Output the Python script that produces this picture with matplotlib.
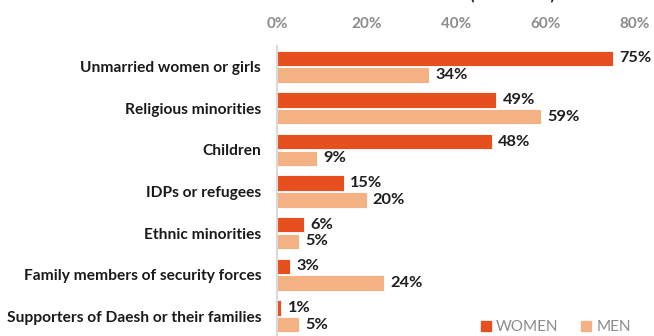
import matplotlib
matplotlib.use("Agg")
import matplotlib.pyplot as plt
import numpy as np
from matplotlib.patches import Rectangle

categories = ["Unmarried women or girls", "Religious minorities", "Children",
              "IDPs or refugees", "Ethnic minorities",
              "Family members of security forces",
              "Supporters of Daesh or their families"]
women = [75, 49, 48, 15, 6, 3, 1]
men = [34, 59, 9, 20, 5, 24, 5]
xticks = [0, 20, 40, 60, 80]
xtick_labels = ["0%", "20%", "40%", "60%", "80%"]

C_W = "#E5501E"
C_M = "#F4B183"
FONT = "Lato"

W, H = 654, 336
fig = plt.figure(figsize=(W/100, H/100), dpi=100)
ax = fig.add_axes([277/W, 1 - 337/H, 358/W, 291/H])

y = np.arange(len(categories))
bh = 0.37
off = 0.2
ax.barh(y - off, women, height=bh, color=C_W, edgecolor="white", linewidth=0.6, label="WOMEN")
ax.barh(y + off, men, height=bh, color=C_M, edgecolor="white", linewidth=0.6, label="MEN")

for i in range(len(categories)):
    ax.text(women[i] + 1.4, y[i] - off, f"{women[i]}%", va="center", ha="left",
            fontsize=11.8, fontweight="bold", color="#1f1f1f", family=FONT)
    ax.text(men[i] + 1.4, y[i] + off, f"{men[i]}%", va="center", ha="left",
            fontsize=11.8, fontweight="bold", color="#1f1f1f", family=FONT)

ax.set_xlim(0, 80)
ax.set_ylim(len(categories) - 0.5, -0.5)
ax.set_yticks(y)
ax.set_yticklabels(categories, fontsize=11.2, fontweight="bold", color="#1a1a1a", family=FONT)
ax.set_xticks(xticks)
ax.set_xticklabels(xtick_labels, fontsize=11, color="#8c8c8c", family=FONT, fontweight="bold")
ax.xaxis.tick_top()
ax.tick_params(axis="x", length=0, pad=10.5)
ax.tick_params(axis="y", length=0, pad=11.5)
for s in ["top", "right", "bottom"]:
    ax.spines[s].set_visible(False)
ax.spines["left"].set_color("#d9d9d9")
ax.spines["left"].set_linewidth(1.5)
for lab in ax.get_xticklabels():
    lab.set_clip_on(False)

fig.text(513/W, 1 - 0.5/H, "(                   )", ha="center", va="baseline",
         fontsize=12, fontweight="bold", color="#262626", family=FONT)

leg = fig.legend(handles=[Rectangle((0, 0), 1, 1, color=C_W), Rectangle((0, 0), 1, 1, color=C_M)],
                 labels=["WOMEN", "MEN"], loc="center", bbox_to_anchor=(556/W, 1 - 327/H),
                 ncol=2, frameon=False, handlelength=0.65, handleheight=0.65,
                 handletextpad=0.35, columnspacing=1.5,
                 prop={"family": FONT, "size": 11})
for t in leg.get_texts():
    t.set_color("#8c8c8c")

fig.savefig("out.png", dpi=100)
